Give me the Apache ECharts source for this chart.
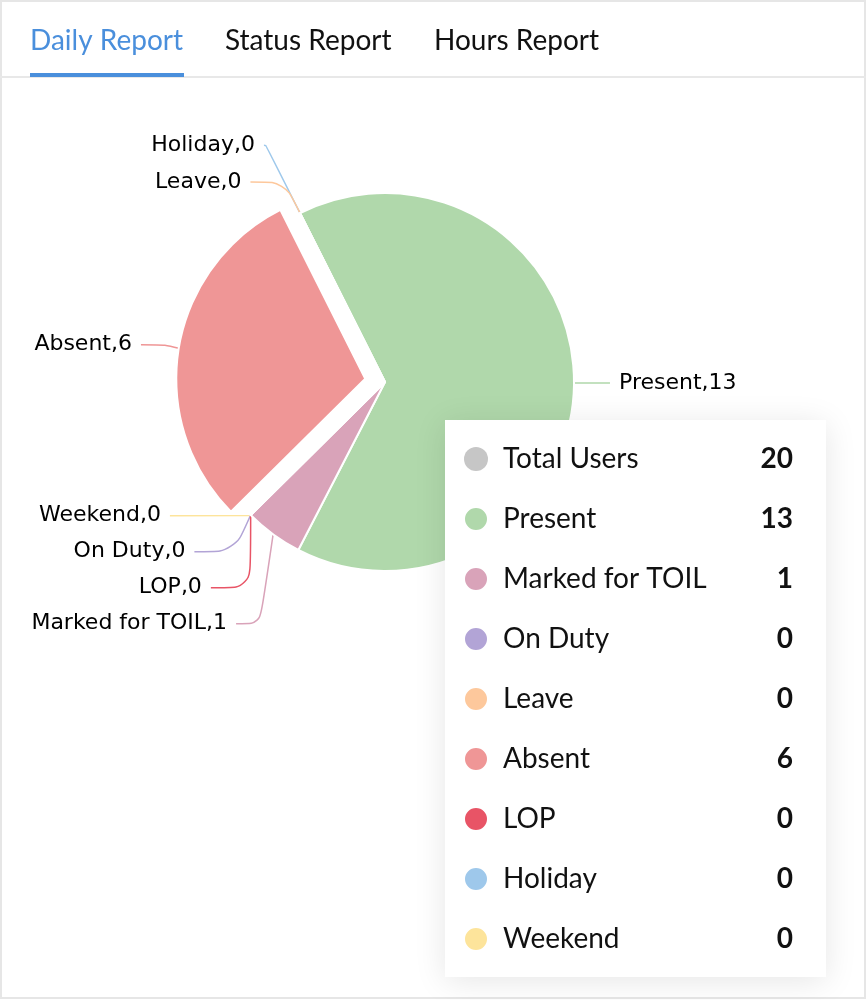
<!DOCTYPE html>
<html><head><meta charset="utf-8">
<script src="https://cdn.jsdelivr.net/npm/echarts@6/dist/echarts.min.js"></script>
<style>html,body{margin:0;padding:0;background:#fff}#c{width:866px;height:1000px}</style>
</head><body><div id="c"></div>
<script>
const tabs = ['Daily Report', 'Status Report', 'Hours Report'];
const legendNames = ['Total Users', 'Present', 'Marked for TOIL', 'On Duty', 'Leave', 'Absent', 'LOP', 'Holiday', 'Weekend'];
const legendValues = [20, 13, 1, 0, 0, 6, 0, 0, 0];
const colorByName = {
  'Total Users': '#c6c6c6', 'Present': '#b0d8ab', 'Marked for TOIL': '#d9a3b9', 'On Duty': '#b2a4d6',
  'Leave': '#fdc89c', 'Absent': '#ef9696', 'LOP': '#e85466', 'Holiday': '#9ec8eb', 'Weekend': '#fde49b'
};
const pieNames = ['Total Users', 'Present', 'Marked for TOIL', 'Weekend', 'On Duty', 'LOP', 'Absent', 'Holiday', 'Leave'];
const pieValues = [0, 13, 1, 0, 0, 0, 6, 0, 0];
const selectedName = 'Absent';

const chart = echarts.init(document.getElementById('c'), null, {renderer: 'canvas'});
const tabX = [30, 225, 434];
const lineOverride = {
  'Present': {length: 14, length2: 22},
  'Holiday': {length: 76, length2: 2},
  'Leave': {length: 35, length2: 20},
  'Weekend': {length: 1, length2: 40},
  'On Duty': {length: 1, length2: 40},
  'LOP': {length: 1, length2: 40}
};
const labelOverride = {
  'Leave': {alignTo: 'edge', edgeDistance: 155},
  'Weekend': {alignTo: 'edge', edgeDistance: 39}
};
const pieData = pieNames.map((n, i) => {
  const d = {name: n, value: pieValues[i], itemStyle: {color: colorByName[n]}};
  if (n === 'Total Users') { d.label = {show: false}; d.labelLine = {show: false}; d.itemStyle.borderWidth = 0; }
  if (lineOverride[n]) d.labelLine = lineOverride[n];
  if (labelOverride[n]) d.label = labelOverride[n];
  if (n === selectedName) d.selected = true;
  return d;
});
const valueOf = {};
legendNames.forEach((n, i) => valueOf[n] = legendValues[i]);

chart.setOption({
  animation: false,
  graphic: [
    {type: 'rect', shape: {x: 1, y: 1, width: 864, height: 997}, style: {fill: 'none', stroke: '#e6e6e6', lineWidth: 2}, z: 0},
    {type: 'rect', shape: {x: 0, y: 76, width: 866, height: 2}, style: {fill: '#e8e8e8'}, z: 1},
    {type: 'rect', shape: {x: 30, y: 73, width: 154, height: 4}, style: {fill: '#4a8fdc'}, z: 2},
    ...tabs.map((t, i) => ({type: 'text', x: tabX[i], y: 41, style: {text: t, font: '28px Lato', fill: i === 0 ? '#4a8fdc' : '#111', verticalAlign: 'middle'}, z: 2}))
  ],
  legend: {
    orient: 'vertical', left: 445, top: 420,
    padding: [25, 33, 24, 18], itemGap: 32, itemWidth: 24, itemHeight: 24, icon: 'circle',
    backgroundColor: '#fff', shadowBlur: 30, shadowColor: 'rgba(0,0,0,0.10)', shadowOffsetY: 4,
    selectedMode: false,
    data: legendNames,
    formatter: name => '{n|' + name + '}{v|' + valueOf[name] + '}',
    textStyle: {
      rich: {
        n: {fontFamily: 'Lato', fontSize: 28, color: '#111', width: 228, padding: [0, 0, 0, 10]},
        v: {fontFamily: 'Lato', fontWeight: 'bold', fontSize: 28, color: '#111', width: 62, align: 'right'}
      }
    }
  },
  series: [{
    type: 'pie', center: [385, 382], radius: [0, 189], startAngle: 116.7, clockwise: true,
    selectedMode: 'single', selectedOffset: 20, avoidLabelOverlap: true,
    emphasis: {disabled: true},
    itemStyle: {borderColor: '#fff', borderWidth: 2},
    label: {formatter: '{b},{c}', fontFamily: 'DejaVu Sans', fontSize: 22, lineHeight: 34, color: '#000', distanceToLabelLine: 9},
    labelLine: {length: 22, length2: 24, smooth: true, lineStyle: {width: 1.5}},
    data: pieData
  }]
});
</script></body></html>
